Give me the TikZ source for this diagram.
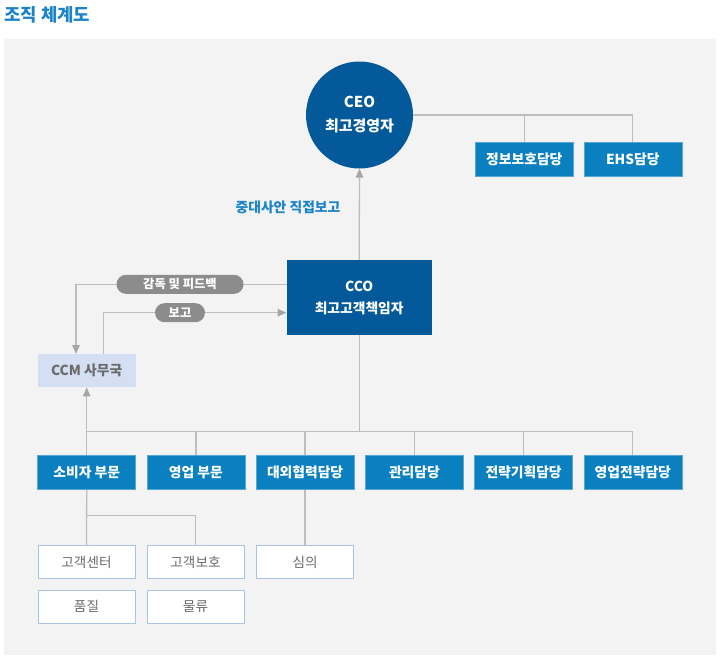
\documentclass[tikz,border=0pt]{standalone}
\usepackage{fontspec}
\setmainfont{Noto Sans CJK KR}
\usetikzlibrary{arrows.meta}
\definecolor{cdark}{HTML}{03599A}
\definecolor{cmid}{HTML}{0B80C1}
\definecolor{ctitle}{HTML}{1B84C9}
\definecolor{cline}{HTML}{BDBDBD}
\definecolor{carrow}{HTML}{A6A6A6}
\definecolor{cpill}{HTML}{8C8C8C}
\definecolor{cccm}{HTML}{D5DFF3}
\definecolor{cgtext}{HTML}{6B6B6B}
\definecolor{csubb}{HTML}{A9C3E6}
\definecolor{cbg}{HTML}{F3F3F3}
\tikzset{
  darkbox/.style={fill=cdark, text=white, align=center, inner sep=0pt, font=\bfseries\fontsize{13.8}{22}\selectfont},
  midbox/.style={fill=cmid, draw=cmid!70!white, line width=0.6pt, text=white, minimum width=98pt, minimum height=34pt, inner sep=0pt, font=\bfseries\fontsize{13.8}{16}\selectfont},
  subbox/.style={fill=white, draw=csubb, line width=1pt, text=cgtext, minimum width=97pt, minimum height=33pt, inner sep=0pt, font=\fontsize{13.6}{16}\selectfont},
  ccmbox/.style={fill=cccm, text=cgtext, minimum width=98pt, minimum height=33pt, inner sep=0pt, font=\bfseries\fontsize{13.8}{16}\selectfont},
  pill/.style={fill=cpill, text=white, rounded corners=9.5pt, minimum height=19pt, inner sep=0pt, font=\bfseries\fontsize{12.3}{14}\selectfont},
  conn/.style={draw=cline, line width=1.3pt},
  arr/.style={conn, -{Triangle[length=9pt,width=7.5pt,fill=carrow,color=carrow]}},
}
\begin{document}
\begin{tikzpicture}[x=1pt,y=-1pt]
\useasboundingbox (0,0) rectangle (720,659);
\fill[white] (0,0) rectangle (720,659);
\fill[cbg] (4,39) rectangle (716,655);
\node[anchor=west, text=ctitle, inner sep=0pt, font=\bfseries\fontsize{17.8}{20}\selectfont] (title) at (4,15) {조직 체계도};

% nodes
\node[darkbox, circle, minimum size=107pt, font=\bfseries\fontsize{15}{24}\selectfont] (ceo) at (359.5,115) {CEO\\최고경영자};
\node[midbox] (info) at (524.3,159.2) {정보보호담당};
\node[midbox] (ehs) at (632.8,159.2) {EHS담당};
\node[darkbox, minimum width=145pt, minimum height=75pt] (cco) at (359.2,297.5) {CCO\\최고고객책임자};
\node[text=ctitle, inner sep=0pt, font=\bfseries\fontsize{13.8}{16}\selectfont] (direct) at (288,207) {중대사안 직접보고};
\node[ccmbox] (ccm) at (86.7,370.7) {CCM 사무국};

\node[midbox] (r1) at (86.7,472.5) {소비자 부문};
\node[midbox] (r2) at (195.9,472.5) {영업 부문};
\node[midbox] (r3) at (305.1,472.5) {대외협력담당};
\node[midbox] (r4) at (414.4,472.5) {관리담당};
\node[midbox] (r5) at (523.6,472.5) {전략기획담당};
\node[midbox] (r6) at (632.8,472.5) {영업전략담당};

\node[subbox] (s1) at (86.5,562) {고객센터};
\node[subbox] (s2) at (195.5,562) {고객보호};
\node[subbox] (s3) at (305.1,562) {심의};
\node[subbox] (s4) at (86.5,606.7) {품질};
\node[subbox] (s5) at (195.5,606.7) {물류};

% top connectors
\draw[conn] (ceo.east) -| (ehs.north);
\draw[conn] (info.north) -- (info.north |- ceo.east);
\draw[arr] (cco.north) -- (ceo.south);

% cco - ccm loop
\draw[arr] ([yshift=13.2pt]cco.west) -| ([xshift=-10.7pt]ccm.north);
\draw[arr] ([xshift=16.6pt]ccm.north) |- ([yshift=-15.2pt]cco.west);
\node[pill, minimum width=127pt] (fb) at (180,284.3) {감독 및 피드백};
\node[pill, minimum width=50pt] (rep) at (180,312.7) {보고};

% bus
\coordinate (busL) at (86.7,431.3);
\coordinate (busR) at (632.8,431.3);
\draw[conn] (cco.south) -- (cco.south |- busL);
\draw[conn] (busL) -- (busR);
\draw[arr] (busL) -- (ccm.south);
\foreach \r in {r1,r2,r3,r4,r5,r6} {\draw[conn] (\r.north) -- (\r.north |- busL);}

% sub connectors
\coordinate (sj) at (86.7,515.7);
\draw[conn] (r1.south) -- (s1.north);
\draw[conn] (sj) -| (s2.north);
\draw[conn] (r3.south) -- (s3.north);
\end{tikzpicture}
\end{document}
